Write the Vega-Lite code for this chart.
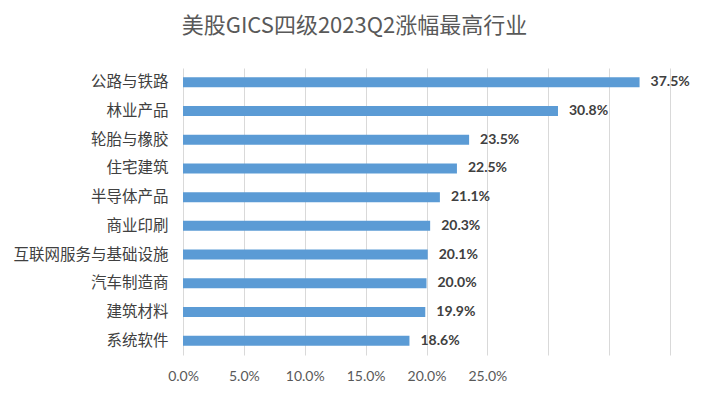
{
  "$schema": "https://vega.github.io/schema/vega-lite/v6.json",
  "width": 487,
  "height": 287,
  "autosize": {"type": "none"},
  "padding": {"left": 183, "top": 68, "right": 39, "bottom": 40},
  "background": "white",
  "title": {
    "text": "美股GICS四级2023Q2涨幅最高行业",
    "font": "Noto Sans CJK SC",
    "fontSize": 22,
    "fontWeight": "normal",
    "color": "#595959",
    "anchor": "middle",
    "dx": -72,
    "offset": 30
  },
  "config": {
    "view": {"stroke": null},
    "font": "Noto Sans CJK SC"
  },
  "data": {
    "values": [
      {"industry": "公路与铁路", "value": 0.375},
      {"industry": "林业产品", "value": 0.308},
      {"industry": "轮胎与橡胶", "value": 0.235},
      {"industry": "住宅建筑", "value": 0.225},
      {"industry": "半导体产品", "value": 0.211},
      {"industry": "商业印刷", "value": 0.203},
      {"industry": "互联网服务与基础设施", "value": 0.201},
      {"industry": "汽车制造商", "value": 0.200},
      {"industry": "建筑材料", "value": 0.199},
      {"industry": "系统软件", "value": 0.186}
    ]
  },
  "encoding": {
    "y": {
      "field": "industry",
      "type": "nominal",
      "sort": null,
      "scale": {"paddingInner": 0.65, "paddingOuter": 0.325},
      "axis": {
        "title": null,
        "domain": false,
        "ticks": false,
        "labelFontSize": 15.5,
        "labelColor": "#404040",
        "labelPadding": 15,
        "labelFont": "Noto Sans CJK SC"
      }
    },
    "x": {
      "field": "value",
      "type": "quantitative",
      "scale": {"domain": [0, 0.4], "nice": false},
      "axis": {
        "title": null,
        "format": ".1%",
        "values": [0, 0.05, 0.1, 0.15, 0.2, 0.25, 0.3, 0.35, 0.4],
        "labelExpr": "datum.value > 0.26 ? '' : datum.label",
        "labelFlush": false,
        "labelOverlap": false,
        "domain": false,
        "ticks": false,
        "grid": true,
        "gridColor": "#d9d9d9",
        "gridWidth": 1,
        "labelFontSize": 14,
        "labelColor": "#595959",
        "labelPadding": 14,
        "labelFont": "Lato"
      }
    }
  },
  "layer": [
    {"mark": {"type": "bar", "color": "#5B9BD5"}},
    {
      "mark": {
        "type": "text",
        "align": "left",
        "baseline": "middle",
        "dx": 11,
        "fontSize": 14,
        "fontWeight": "bold",
        "color": "#404040",
        "font": "Lato"
      },
      "encoding": {
        "text": {"field": "value", "type": "quantitative", "format": ".1%"}
      }
    }
  ]
}
